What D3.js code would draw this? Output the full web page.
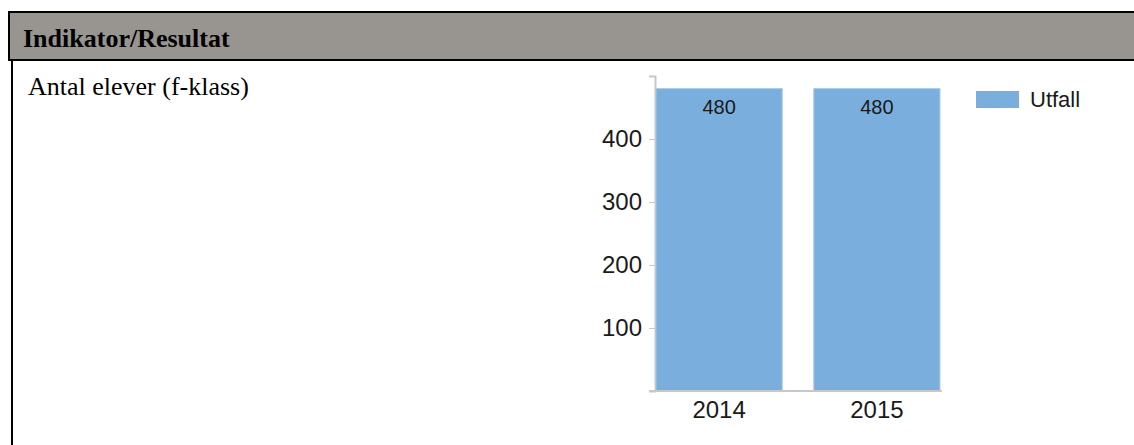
<!DOCTYPE html>
<html>
<head>
<meta charset="utf-8">
<script src="https://cdn.jsdelivr.net/npm/d3@7"></script>
<style>
  body { margin: 0; background: #fff; }
</style>
</head>
<body>
<div id="chart"></div>
<script>
// Data
var years = ["2014", "2015"];
var utfall = [480, 480];
var yTicks = [100, 200, 300, 400];
var seriesName = "Utfall";
var headerText = "Indikator/Resultat";
var rowText = "Antal elever (f-klass)";

var svgWidth = 1134;
var svgHeight = 445;

var svg = d3.select("#chart")
    .append("svg")
    .attr("width", svgWidth)
    .attr("height", svgHeight);

// Table header band
svg.append("rect")
    .attr("x", 9)
    .attr("y", 12)
    .attr("width", svgWidth + 20)
    .attr("height", 48)
    .attr("fill", "#989490")
    .attr("stroke", "#000")
    .attr("stroke-width", 2);

svg.append("line")
    .attr("x1", 12).attr("x2", 12)
    .attr("y1", 60).attr("y2", svgHeight)
    .attr("stroke", "#000")
    .attr("stroke-width", 2);

svg.append("text")
    .attr("x", 23)
    .attr("y", 47)
    .attr("font-family", "'Liberation Serif', 'Times New Roman', serif")
    .attr("font-weight", "bold")
    .attr("font-size", "26px")
    .attr("fill", "#000")
    .text(headerText);

svg.append("text")
    .attr("x", 28)
    .attr("y", 95)
    .attr("font-family", "'Liberation Serif', 'Times New Roman', serif")
    .attr("font-size", "26px")
    .attr("fill", "#000")
    .text(rowText);

// Chart
var xScale = d3.scaleBand()
    .domain(years)
    .range([656, 940])
    .paddingInner(0.2)
    .paddingOuter(0);

var yScale = d3.scaleLinear()
    .domain([0, 500])
    .range([391, 76]);

var axisFont = "'Liberation Sans', Arial, sans-serif";

var leftAxis = d3.axisLeft(yScale)
    .tickValues(yTicks)
    .tickSize(6)
    .tickPadding(7);

var yAxisG = svg.append("g")
    .attr("transform", "translate(655, 0)")
    .call(leftAxis);

yAxisG.select(".domain").attr("stroke", "#c8c8c8").attr("stroke-width", 2);
yAxisG.selectAll(".tick line").attr("stroke", "#c8c8c8");
yAxisG.selectAll(".tick text")
    .attr("font-family", axisFont)
    .attr("font-size", "24px")
    .attr("fill", "#1a1a1a");

// Bars
svg.selectAll("rect.bar")
    .data(utfall)
    .enter()
    .append("rect")
    .attr("class", "bar")
    .attr("x", (d, i) => xScale(years[i]))
    .attr("y", d => yScale(d))
    .attr("width", xScale.bandwidth())
    .attr("height", d => yScale(0) - yScale(d))
    .attr("fill", "#7aafdd")
    .attr("stroke", "#a9cce9")
    .attr("stroke-width", 1);

// X axis line
svg.append("line")
    .attr("x1", 649).attr("x2", 942)
    .attr("y1", yScale(0)).attr("y2", yScale(0))
    .attr("stroke", "#c8c8c8")
    .attr("stroke-width", 2);

// X labels
svg.selectAll("text.xlabel")
    .data(years)
    .enter()
    .append("text")
    .attr("class", "xlabel")
    .attr("x", d => xScale(d) + xScale.bandwidth() / 2)
    .attr("y", 418)
    .attr("text-anchor", "middle")
    .attr("font-family", axisFont)
    .attr("font-size", "24px")
    .attr("fill", "#1a1a1a")
    .text(d => d);

// Value labels
svg.selectAll("text.value")
    .data(utfall)
    .enter()
    .append("text")
    .attr("class", "value")
    .attr("x", (d, i) => xScale(years[i]) + xScale.bandwidth() / 2)
    .attr("y", d => yScale(d) + 25)
    .attr("text-anchor", "middle")
    .attr("font-family", axisFont)
    .attr("font-size", "20px")
    .attr("fill", "#1a1a1a")
    .text(d => d);

// Legend
svg.append("rect")
    .attr("x", 976)
    .attr("y", 91)
    .attr("width", 43)
    .attr("height", 17)
    .attr("fill", "#7aafdd");

svg.append("text")
    .attr("x", 1030)
    .attr("y", 107)
    .attr("font-family", axisFont)
    .attr("font-size", "22px")
    .attr("fill", "#1a1a1a")
    .text(seriesName);
</script>
</body>
</html>
